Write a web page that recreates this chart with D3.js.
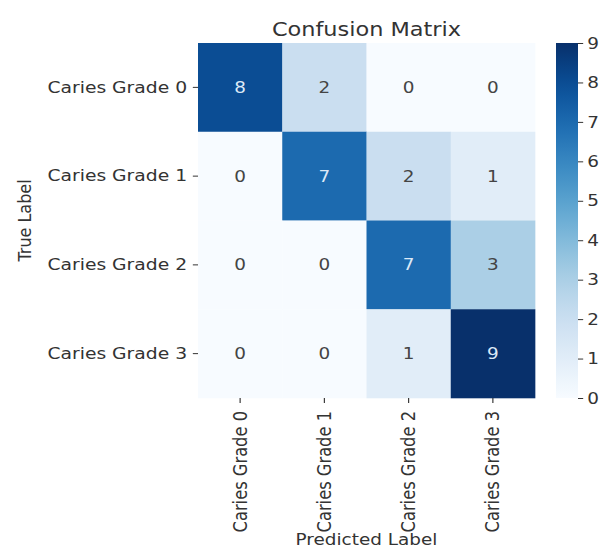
<!DOCTYPE html>
<html>
<head>
<meta charset="utf-8">
<script src="https://cdn.jsdelivr.net/npm/d3@7"></script>
<style>
  html, body { margin: 0; padding: 0; background: #fff; }
  svg { display: block; }
  text { font-family: "DejaVu Sans", sans-serif; fill: #333333; }
</style>
</head>
<body>
<svg id="chart" width="615" height="550"></svg>
<script>
// Confusion matrix data
const predictedLabels = ["Caries Grade 0", "Caries Grade 1", "Caries Grade 2", "Caries Grade 3"];
const trueLabels = ["Caries Grade 0", "Caries Grade 1", "Caries Grade 2", "Caries Grade 3"];
const row0 = [8, 2, 0, 0];
const row1 = [0, 7, 2, 1];
const row2 = [0, 0, 7, 3];
const row3 = [0, 0, 1, 9];
const matrix = [row0, row1, row2, row3];
const colorbarTicks = [0, 1, 2, 3, 4, 5, 6, 7, 8, 9];
const valueMin = 0, valueMax = 9;

const ink = "#333333";

// Whole figure is drawn slightly wider than tall (horizontal stretch)
const sx = 1.15;
const svg = d3.select("#chart");
const root = svg.append("g").attr("transform", `scale(${sx},1)`);

const hm = { x0: 198 / sx, x1: 535 / sx, y0: 43, y1: 398 };
const cb = { x0: 556 / sx, x1: 578 / sx };

const x = d3.scaleBand().domain(predictedLabels).range([hm.x0, hm.x1]);
const y = d3.scaleBand().domain(trueLabels).range([hm.y0, hm.y1]);
const color = d3.scaleSequential(d3.interpolateBlues).domain([valueMin, valueMax]);

const cells = [];
matrix.forEach((row, i) => row.forEach((v, j) => cells.push({ r: trueLabels[i], c: predictedLabels[j], v })));

// Heatmap cells
root.append("g").selectAll("rect").data(cells).join("rect")
  .attr("x", d => x(d.c))
  .attr("y", d => y(d.r))
  .attr("width", x.bandwidth() + 0.3)
  .attr("height", y.bandwidth() + 0.3)
  .attr("fill", d => color(d.v));

// Annotations: light text on dark cells
function textColor(v) {
  const c = d3.rgb(color(v));
  const lum = (0.2126 * c.r + 0.7152 * c.g + 0.0722 * c.b) / 255;
  return lum > 0.408 ? "#444444" : "#dce9f7";
}
root.append("g").selectAll("text").data(cells).join("text")
  .attr("x", d => x(d.c) + x.bandwidth() / 2)
  .attr("y", d => y(d.r) + y.bandwidth() / 2)
  .attr("text-anchor", "middle")
  .attr("dominant-baseline", "central")
  .style("font-size", "16px")
  .style("fill", d => textColor(d.v))
  .text(d => d.v);

// Y axis (true labels)
const yAxis = root.append("g")
  .attr("transform", `translate(${hm.x0},0)`)
  .call(d3.axisLeft(y).tickSize(4.5).tickPadding(5));
yAxis.select(".domain").remove();
yAxis.selectAll(".tick line").attr("stroke", ink).attr("stroke-width", 1);
yAxis.selectAll(".tick text").style("font-size", "16.3px").style("fill", ink);

// X axis (predicted labels), rotated
const xAxis = root.append("g")
  .attr("transform", `translate(0,${hm.y1})`)
  .call(d3.axisBottom(x).tickSize(5).tickPadding(8));
xAxis.select(".domain").remove();
xAxis.selectAll(".tick line").attr("stroke", ink).attr("stroke-width", 1);
xAxis.selectAll(".tick text")
  .style("font-size", "16.3px")
  .style("fill", ink)
  .attr("transform", "rotate(-90)")
  .attr("x", -13)
  .attr("y", 0)
  .attr("dy", "0.35em")
  .attr("text-anchor", "end");

// Axis titles
root.append("text")
  .attr("x", (hm.x0 + hm.x1) / 2)
  .attr("y", 545)
  .attr("text-anchor", "middle")
  .style("font-size", "16px")
  .text("Predicted Label");

root.append("text")
  .attr("transform", `translate(${25 / sx},${(hm.y0 + hm.y1) / 2}) rotate(-90)`)
  .attr("text-anchor", "middle")
  .attr("dominant-baseline", "central")
  .style("font-size", "16px")
  .text("True Label");

// Title
root.append("text")
  .attr("x", (hm.x0 + hm.x1) / 2)
  .attr("y", 36)
  .attr("text-anchor", "middle")
  .style("font-size", "19.5px")
  .text("Confusion Matrix");

// Colorbar
const defs = svg.append("defs");
const grad = defs.append("linearGradient")
  .attr("id", "cbgrad").attr("x1", 0).attr("y1", 1).attr("x2", 0).attr("y2", 0);
d3.range(0, 1.0001, 0.05).forEach(t => {
  grad.append("stop").attr("offset", t).attr("stop-color", color(valueMin + t * (valueMax - valueMin)));
});
root.append("rect")
  .attr("x", cb.x0).attr("y", hm.y0)
  .attr("width", cb.x1 - cb.x0).attr("height", hm.y1 - hm.y0)
  .attr("fill", "url(#cbgrad)");

const cbScale = d3.scaleLinear().domain([valueMin, valueMax]).range([hm.y1, hm.y0]);
const cbAxis = root.append("g")
  .attr("transform", `translate(${cb.x1},0)`)
  .call(d3.axisRight(cbScale).tickValues(colorbarTicks).tickFormat(d3.format("d")).tickSize(4.5).tickPadding(3.5));
cbAxis.select(".domain").remove();
cbAxis.selectAll(".tick line").attr("stroke", ink).attr("stroke-width", 1);
cbAxis.selectAll(".tick text").style("font-size", "16px").style("fill", ink);
</script>
</body>
</html>
